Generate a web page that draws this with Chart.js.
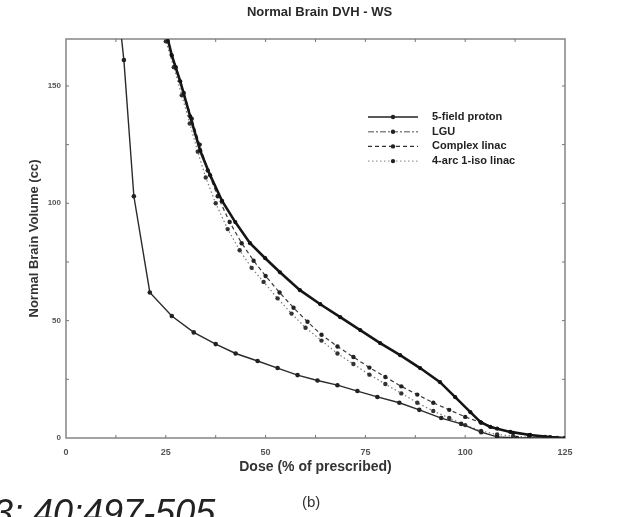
<!DOCTYPE html>
<html>
<head>
<meta charset="utf-8">
<script src="https://cdn.jsdelivr.net/npm/chart.js@4"></script>
<style>
  body { margin: 0; background: #fff; }
  #wrap { position: relative; width: 623px; height: 517px; overflow: hidden; }
  #cite { position: absolute; left: -7px; top: 492px; font: italic 36px "Liberation Sans", Arial, sans-serif; color: #222; white-space: nowrap; }
  #panel { position: absolute; left: 302px; top: 493px; font: 15px "Liberation Sans", Arial, sans-serif; color: #333; }
</style>
</head>
<body>
<div id="wrap">
  <canvas id="dvh" width="623" height="517"></canvas>
  <div id="cite">3; 40:497-505</div>
  <div id="panel">(b)</div>
</div>
<script>
// Dose (% of prescribed) and normal brain volume (cc)
const protonDose = [13.8, 14.5, 17, 21, 26.5, 32, 37.5, 42.5, 48, 53, 58, 63, 68, 73, 78, 83.5, 88.5, 94, 99, 104, 108, 113, 125];
const protonVol  = [172, 161, 103, 62, 52, 45, 40, 36, 32.8, 29.8, 26.8, 24.5, 22.5, 20, 17.5, 15, 12, 8.5, 6, 2.5, 0.5, 0, 0];

const lguDose = [25.2, 26.5, 28.6, 31.1, 33.6, 36.1, 39.1, 42.4, 46.1, 49.9, 53.6, 58.6, 63.7, 68.7, 73.7, 78.7, 83.7, 88.7, 93.7, 97.5, 101.3, 103.8, 106.3, 111.3, 116.3, 121.3, 125];
const lguVol  = [172, 163, 152, 137, 122.5, 112, 101, 92, 83, 76.6, 70.6, 63, 57, 51.5, 46, 40.4, 35.3, 29.8, 23.8, 17.4, 11, 6.8, 4.7, 2.6, 1.3, 0.4, 0];

const complexDose = [25, 25.5, 27.5, 29.5, 31.5, 33.5, 35.5, 38, 41, 44, 47, 50, 53.5, 57, 60.5, 64, 68, 72, 76, 80, 84, 88, 92, 96, 100, 104, 108, 112, 116, 120, 123];
const complexVol  = [172, 169, 158, 147, 136, 125, 114, 103, 92, 83, 75.5, 69, 62, 55.5, 49.5, 44, 39, 34.5, 30, 26, 22, 18.5, 15, 12, 9, 6.5, 4, 2.2, 1.2, 0.5, 0];

const arcDose = [24.6, 25, 27, 29, 31, 33, 35, 37.5, 40.5, 43.5, 46.5, 49.5, 53, 56.5, 60, 64, 68, 72, 76, 80, 84, 88, 92, 96, 100, 104, 108, 112, 116, 120];
const arcVol  = [172, 169, 158, 146, 134, 122, 111, 100, 89, 80, 72.5, 66.5, 59.5, 53, 47, 41.5, 36, 31.5, 27, 23, 19, 15, 11.5, 8.5, 5.5, 3, 1.5, 0.8, 0.3, 0];

const seriesNames = ['5-field proton', 'LGU', 'Complex linac', '4-arc 1-iso linac'];
const chartTitle = 'Normal Brain DVH - WS';
const xTicks = [0, 25, 50, 75, 100, 125];
const yTicks = [0, 50, 100, 150];

const pts = (xs, ys) => xs.map((x, i) => ({ x: x, y: ys[i] }));
const FONT = '"Liberation Sans", Arial, sans-serif';

// legend sample styles (the scan shows lighter samples than the plotted lines)
const legendStyle = [
  { color: '#222', dash: [], width: 1.4 },
  { color: '#888', dash: [6, 2, 2, 2], width: 1.4 },
  { color: '#333', dash: [4, 3], width: 1.3 },
  { color: '#999', dash: [1.5, 2.5], width: 1.4 }
];

const frameAndLegend = {
  id: 'frameAndLegend',
  beforeDatasetsDraw(chart) {
    const { ctx, chartArea: a, scales: { x, y } } = chart;
    ctx.save();
    ctx.strokeStyle = '#8c8c8c';
    ctx.lineWidth = 1.6;
    ctx.strokeRect(a.left, a.top, a.right - a.left, a.bottom - a.top);
    ctx.lineWidth = 1;
    ctx.strokeStyle = '#777';
    for (let v = 12.5; v < 125; v += 12.5) {
      const px = x.getPixelForValue(v);
      ctx.beginPath();
      ctx.moveTo(px, a.bottom); ctx.lineTo(px, a.bottom - 3);
      ctx.moveTo(px, a.top); ctx.lineTo(px, a.top + 3);
      ctx.stroke();
    }
    for (let v = 25; v < 170; v += 25) {
      const py = y.getPixelForValue(v);
      ctx.beginPath();
      ctx.moveTo(a.left, py); ctx.lineTo(a.left + 3, py);
      ctx.moveTo(a.right, py); ctx.lineTo(a.right - 3, py);
      ctx.stroke();
    }
    // title, centred over the plot box
    ctx.fillStyle = '#2a2a2a';
    ctx.font = 'bold 13px ' + FONT;
    ctx.textAlign = 'center';
    ctx.textBaseline = 'middle';
    ctx.fillText(chartTitle, (a.left + a.right) / 2 + 4, 12);
    ctx.restore();
  },
  afterDraw(chart) {
    const { ctx, chartArea: a } = chart;
    const x0 = a.left + 302, x1 = a.left + 352, tx = a.left + 366;
    ctx.save();
    ctx.font = 'bold 11px ' + FONT;
    ctx.textBaseline = 'middle';
    chart.data.datasets.forEach((ds, i) => {
      const yy = a.top + 78 + i * 14.7;
      const st = legendStyle[i];
      ctx.strokeStyle = st.color;
      ctx.lineWidth = st.width;
      ctx.setLineDash(st.dash);
      ctx.beginPath();
      ctx.moveTo(x0, yy); ctx.lineTo(x1, yy);
      ctx.stroke();
      ctx.setLineDash([]);
      ctx.fillStyle = '#222';
      ctx.beginPath();
      ctx.arc((x0 + x1) / 2, yy, 2.2, 0, Math.PI * 2);
      ctx.fill();
      ctx.fillText(ds.label, tx, yy);
    });
    ctx.restore();
  }
};

const ctx = document.getElementById('dvh').getContext('2d');
new Chart(ctx, {
  type: 'line',
  data: {
    datasets: [
      { label: seriesNames[0], data: pts(protonDose, protonVol), borderColor: '#2a2a2a', borderWidth: 1.4,
        pointRadius: 2.3, pointBackgroundColor: '#222', pointBorderWidth: 0 },
      { label: seriesNames[1], data: pts(lguDose, lguVol), borderColor: '#151515', borderWidth: 2.6,
        pointRadius: 2.1, pointBackgroundColor: '#111', pointBorderWidth: 0 },
      { label: seriesNames[2], data: pts(complexDose, complexVol), borderColor: '#3a3a3a', borderWidth: 1.2,
        borderDash: [4, 3], pointRadius: 2.2, pointBackgroundColor: '#222', pointBorderWidth: 0 },
      { label: seriesNames[3], data: pts(arcDose, arcVol), borderColor: '#777', borderWidth: 1.2,
        borderDash: [1.5, 2.5], pointRadius: 2.2, pointBackgroundColor: '#333', pointBorderWidth: 0 }
    ]
  },
  options: {
    responsive: false,
    animation: false,
    layout: { padding: { left: 0, right: 58, top: 39, bottom: 38 } },
    plugins: {
      legend: { display: false },
      tooltip: { enabled: false },
      title: { display: false }
    },
    scales: {
      x: {
        type: 'linear', min: 0, max: 125,
        afterFit: s => { s.height = 41; },
        afterBuildTicks: s => { s.ticks = xTicks.map(v => ({ value: v })); },
        grid: { display: false, drawTicks: false },
        border: { display: false },
        ticks: { padding: 9, color: '#555', font: { family: FONT, size: 9, weight: 'bold' } },
        title: { display: true, text: 'Dose (% of prescribed)', color: '#333', padding: { top: 3, bottom: 3 },
          font: { family: FONT, size: 14, weight: 'bold' } }
      },
      y: {
        type: 'linear', min: 0, max: 170,
        afterFit: s => { s.width = 66; },
        afterBuildTicks: s => { s.ticks = yTicks.map(v => ({ value: v })); },
        grid: { display: false, drawTicks: false },
        border: { display: false },
        ticks: { padding: 5, color: '#555', font: { family: FONT, size: 8, weight: 'bold' } },
        title: { display: true, text: 'Normal Brain Volume (cc)', color: '#333', padding: { top: 27, bottom: 0 },
          font: { family: FONT, size: 13, weight: 'bold' } }
      }
    }
  },
  plugins: [frameAndLegend]
});
</script>
</body>
</html>
